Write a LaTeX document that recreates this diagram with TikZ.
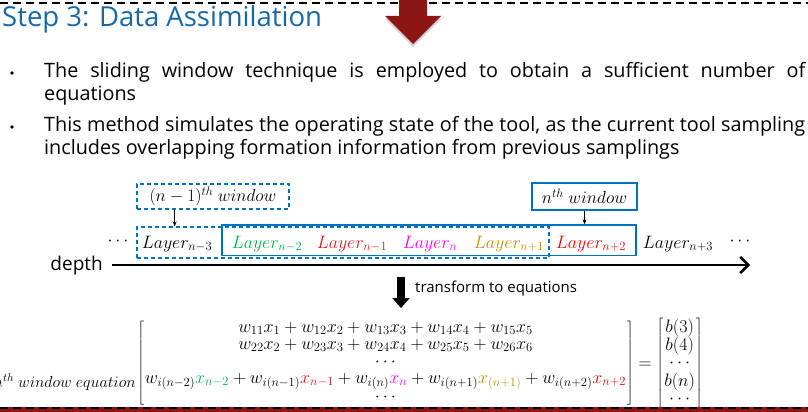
\documentclass[tikz,border=0pt]{standalone}
\usepackage{fix-cm}
\usepackage{fontspec}
\setmainfont{Open Sans}
\usetikzlibrary{arrows.meta,calc,shadows}
\definecolor{darkred}{RGB}{140,22,22}
\definecolor{titleblue}{RGB}{22,104,166}
\definecolor{winblue}{RGB}{0,112,192}
\definecolor{lgreen}{RGB}{0,176,80}
\definecolor{lred}{RGB}{214,28,36}
\definecolor{lmagenta}{RGB}{255,0,255}
\definecolor{lgold}{RGB}{191,144,0}
\definecolor{lbright}{RGB}{255,0,0}
\begin{document}
\begin{tikzpicture}[x=1pt,y=-1pt,
  winbox/.style={draw=winblue, line width=1.3pt, inner sep=0pt},
  prevbox/.style={winbox, dash pattern=on 4pt off 3pt},
  pointer/.style={-{Stealth[length=5pt,width=4pt]}, line width=0.7pt},
  sepline/.style={line width=2pt, dash pattern=on 8pt off 5pt},
  layer/.style={anchor=base, inner sep=0pt, font=\fontsize{18}{20}\selectfont},
  bullettext/.style={anchor=north west, inner sep=0pt, text width=761pt,
    align=justify, font=\fontsize{19.8}{23.3}\selectfont,
    execute at begin node={\hyphenpenalty=10000\relax}}]
  \useasboundingbox (0,0) rectangle (808,412);
  \draw[sepline] (0,3) -- (808,3);
  \fill[darkred, drop shadow={opacity=0.35, shadow xshift=0pt, shadow yshift=-3pt}]
    (399,0) -- (427,0) -- (427,16) -- (441,16) -- (413,44) -- (385,16) -- (399,16) -- cycle;
  \node[anchor=base west, inner sep=0pt, text=titleblue, font=\fontsize{27.5}{30}\selectfont]
    (title) at (2,27) {Step 3: Data Assimilation};
  \fill (12,73) circle (1.8) (12,127) circle (1.8);
  \node[bullettext] (item1) at (44,62)
    {The sliding window technique is employed to obtain a sufficient number of\linebreak
     equations};
  \node[bullettext] (item2) at (44,116)
    {This method simulates the operating state of the tool, as the current tool sampling\linebreak
     includes overlapping formation information from previous samplings};
  \begin{scope}[font=\fontsize{17.5}{19}\selectfont]
    \node[prevbox, minimum width=152pt, minimum height=25pt] (prevlbl) at (213,196.5)
      {$(n-1)^{th}\ window$};
    \node[winbox, minimum width=105pt, minimum height=27pt] (curlbl) at (584.5,196.5)
      {$n^{th}\ window$};
  \end{scope}
  \node[prevbox, minimum width=412pt, minimum height=31pt] (prevwin) at (343,242.5) {};
  \node[winbox, minimum width=414pt, minimum height=30.5pt] (curwin) at (429,240.25) {};
  \draw[pointer] ($(prevlbl.south west)!0.25!(prevlbl.south east)$) coordinate (p)
    -- (p |- prevwin.north);
  \draw[pointer] (curlbl.south) -- (curlbl.south |- curwin.north);
  \foreach \x/\sub/\col [count=\i] in {177/n-3/black, 267/n-2/lgreen, 352/n-1/lred,
      430/n/lmagenta, 509/n+1/lgold, 591/n+2/lbright, 678/n+3/black}
    \node[layer, text=\col] (layer\i) at (\x,248) {$Layer_{\sub}$};
  \node[layer] (dotsl) at (118,245) {$\cdots$};
  \node[layer] (dotsr) at (740,245) {$\cdots$};
  \node[anchor=base east, inner sep=0pt, font=\fontsize{19}{22}\selectfont]
    (depth) at (103,270) {depth};
  \coordinate (axisstart) at (112,265);
  \coordinate (axisend) at (750,265);
  \draw[line width=2.5pt, -{Straight Barb[length=8pt,width=16pt]}] (axisstart) -- (axisend);
  \coordinate (tfrom) at (401,277);
  \coordinate (tto) at (401,308);
  \draw[line width=8pt, -{Triangle[length=10pt,width=17pt]}] (tfrom) -- (tto);
  \node[anchor=west, inner sep=0pt, font=\fontsize{15}{18}\selectfont]
    (tlabel) at (415,289) {transform to equations};
  \node[inner sep=0pt, font=\fontsize{18}{17}\selectfont] (system) at (420,363.5)
    {$\setlength\arraycolsep{1pt}\left[\begin{array}{c}
      w_{11}x_1+w_{12}x_2+w_{13}x_3+w_{14}x_4+w_{15}x_5\\
      w_{22}x_2+w_{23}x_3+w_{24}x_4+w_{25}x_5+w_{26}x_6\\
      \cdots\\
      w_{i(n-2)}{\color{lgreen}x_{n-2}}+w_{i(n-1)}{\color{lred}x_{n-1}}+w_{i(n)}{\color{lmagenta}x_n}
        +w_{i(n+1)}{\color{lgold}x_{(n+1)}}+w_{i(n+2)}{\color{lbright}x_{n+2}}\\
      \cdots
    \end{array}\right]=\left[\begin{array}{c}
      b(3)\\ b(4)\\ \cdots\\ b(n)\\ \cdots
    \end{array}\right]$};
  \node[anchor=base east, inner sep=0pt, font=\fontsize{16}{17}\selectfont]
    (eqlabel) at (136,387) {$n^{th}\ window\ equation$};
  \fill[darkred] (0,407) rectangle (808,412);
  \draw[sepline] (0,408) -- (808,408);
\end{tikzpicture}
\end{document}
